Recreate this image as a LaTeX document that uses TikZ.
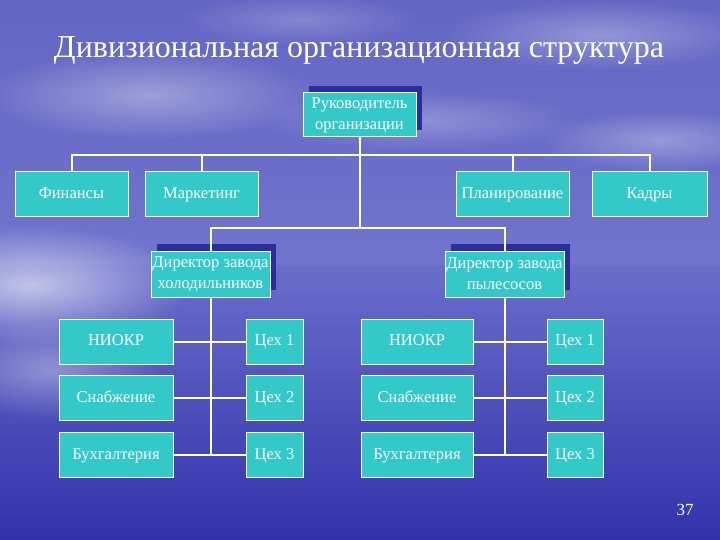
\documentclass[tikz,border=0pt]{standalone}
\usepackage{fontspec}
\setmainfont{Liberation Serif}
\usetikzlibrary{shadows,fadings}
\definecolor{boxc}{HTML}{33C9C8}
\definecolor{shadowc}{HTML}{2C2C9E}
\definecolor{skytop}{HTML}{6466C4}
\definecolor{skybot}{HTML}{7074CC}
\definecolor{seatop}{HTML}{6A6ECA}
\definecolor{seamid}{HTML}{3C3EB6}
\definecolor{seabot}{HTML}{3232AC}
\tikzfading[name=softglow, inner color=transparent!0, outer color=transparent!100]
\begin{document}
\begin{tikzpicture}[x=1pt,y=-1pt,
  orgbox/.style={draw=white, line width=1pt, fill=boxc, text=white,
    font=\fontsize{16.5}{21}\selectfont, align=center, inner sep=0pt,
    minimum width=113pt, minimum height=45pt},
  oneline/.style={text height=11pt, text depth=3pt},
  shadowed/.style={drop shadow={shadow xshift=6pt, shadow yshift=7pt, fill=shadowc, opacity=1}},
  link/.style={draw=white, line width=2pt},
  cloud/.style={fill=white, path fading=softglow}]
\useasboundingbox (0,0) rectangle (720,540);
% background
\shade[top color=skytop, bottom color=skybot] (0,0) rectangle (720,265);
\shade[top color=seatop, middle color=seamid, bottom color=seabot] (0,265) rectangle (720,540);
\fill[cloud, opacity=0.6] (30,285) ellipse (160 and 60);
\fill[cloud, opacity=0.35] (50,370) ellipse (110 and 50);
\fill[cloud, opacity=0.35] (150,95) ellipse (170 and 45);
\fill[cloud, opacity=0.30] (600,35) ellipse (160 and 35);
\fill[cloud, opacity=0.30] (660,140) ellipse (120 and 30);
\fill[cloud, opacity=0.25] (420,120) ellipse (160 and 30);
\fill[cloud, opacity=0.20] (300,20) ellipse (120 and 25);
% title
\node (title) [text=white, font=\fontsize{32}{36}\selectfont, anchor=base] at (359,58) {Дивизиональная организационная структура};
% nodes
\node (ruk) [orgbox, shadowed, minimum height=44pt] at (359.5,115) {Руководитель\\организации};
\node (fin) [orgbox, oneline] at (71.5,194.5) {Финансы};
\node (mark) [orgbox, oneline] at (201.5,194.5) {Маркетинг};
\node (plan) [orgbox, oneline] at (512.5,194.5) {Планирование};
\node (kadr) [orgbox, oneline, minimum width=115pt] at (649.5,194.5) {Кадры};
\node (dir1) [orgbox, shadowed, minimum width=119pt, minimum height=46pt] at (210.5,274) {Директор завода\\холодильников};
\node (dir2) [orgbox, shadowed, minimum width=119pt, minimum height=46pt] at (504.5,274) {Директор завода\\пылесосов};
\node (niokrA) [orgbox, oneline, minimum width=114pt] at (116,341.5) {НИОКР};
\node (snabA) [orgbox, oneline, minimum width=114pt] at (116,398) {Снабжение};
\node (buhA) [orgbox, oneline, minimum width=114pt] at (116,455) {Бухгалтерия};
\node (cexA1) [orgbox, oneline, minimum width=57pt] at (274.5,341.5) {Цех 1};
\node (cexA2) [orgbox, oneline, minimum width=57pt] at (274.5,398) {Цех 2};
\node (cexA3) [orgbox, oneline, minimum width=57pt] at (274.5,455) {Цех 3};
\node (niokrB) [orgbox, oneline, minimum width=112pt] at (417,341.5) {НИОКР};
\node (snabB) [orgbox, oneline, minimum width=112pt] at (417,398) {Снабжение};
\node (buhB) [orgbox, oneline, minimum width=112pt] at (417,455) {Бухгалтерия};
\node (cexB1) [orgbox, oneline, minimum width=56pt] at (575,341.5) {Цех 1};
\node (cexB2) [orgbox, oneline, minimum width=56pt] at (575,398) {Цех 2};
\node (cexB3) [orgbox, oneline, minimum width=56pt] at (575,455) {Цех 3};
\node (page) [text=white, font=\fontsize{17}{19}\selectfont] at (685,510) {37};
% connectors
\coordinate (bus1) at (359.5,155);
\coordinate (bus2) at (359.5,228);
\draw[link] (ruk.south) -- (bus2);
\draw[link] (fin.north) |- (bus1) -| (kadr.north);
\draw[link] (mark.north) -- (mark.north |- bus1);
\draw[link] (plan.north) -- (plan.north |- bus1);
\draw[link] (dir1.north) |- (bus2) -| (dir2.north);
\draw[link] (dir1.south) -- (dir1.south |- buhA.east);
\draw[link] (dir2.south) -- (dir2.south |- buhB.east);
\draw[link] (niokrA.east) -- (cexA1.west);
\draw[link] (snabA.east) -- (cexA2.west);
\draw[link] (buhA.east) -- (cexA3.west);
\draw[link] (niokrB.east) -- (cexB1.west);
\draw[link] (snabB.east) -- (cexB2.west);
\draw[link] (buhB.east) -- (cexB3.west);
\end{tikzpicture}
\end{document}
